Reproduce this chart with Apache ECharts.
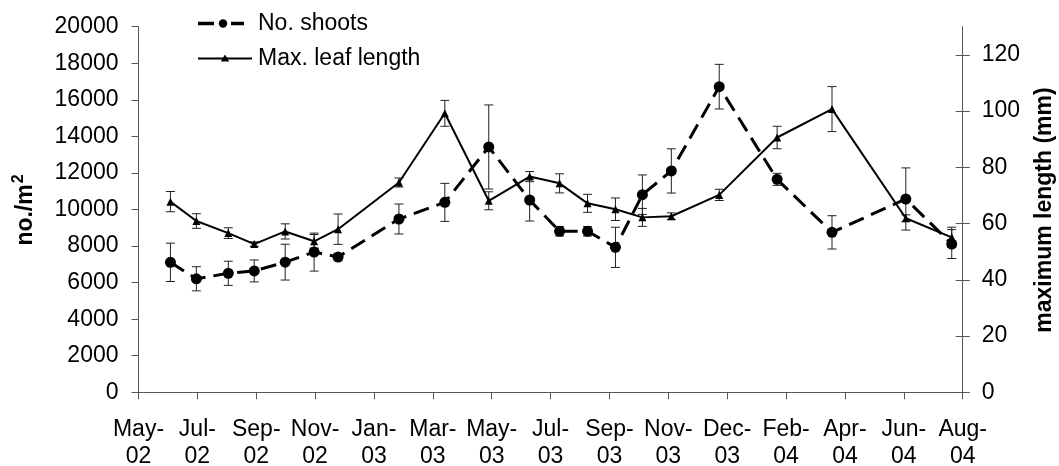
<!DOCTYPE html>
<html>
<head>
<meta charset="utf-8">
<script src="https://cdn.jsdelivr.net/npm/echarts@6/dist/echarts.min.js"></script>
<style>
  html, body { margin: 0; padding: 0; background: #fff; }
  #chart { width: 1059px; height: 466px; }
</style>
</head>
<body>
<div id="chart"></div>
<script>
// Sampling dates and the two measured quantities (mean and error)
const sampleDates = ['2002-06-21', '2002-07-17', '2002-08-18', '2002-09-13', '2002-10-14', '2002-11-12',
  '2002-12-06', '2003-02-05', '2003-03-23', '2003-05-06', '2003-06-16', '2003-07-16', '2003-08-13',
  '2003-09-10', '2003-10-07', '2003-11-05', '2003-12-23', '2004-02-19', '2004-04-14', '2004-06-27',
  '2004-08-12'];
const shoots = [7110, 6210, 6510, 6640, 7120, 7670, 7400, 9480, 10390, 13420, 10520, 8810, 8810,
  7930, 10810, 12110, 16720, 11650, 8750, 10575, 8110];
const shootsErr = [1050, 660, 660, 600, 980, 1040, 200, 820, 1040, 2300, 1150, 260, 260,
  1100, 1080, 1210, 1220, 330, 910, 1700, 790];
const leafLength = [67.8, 60.9, 56.6, 52.7, 57.2, 53.7, 58.0, 74.6, 99.2, 68.1, 76.7, 74.3, 67.2,
  65.1, 62.2, 62.6, 70.2, 90.6, 100.7, 61.9, 55.1];
const leafErr = [3.6, 2.6, 1.9, 0.8, 2.7, 2.4, 5.4, 1.6, 4.6, 3.2, 1.8, 3.4, 3.2,
  4.0, 3.2, 1.2, 2.0, 4.0, 8.0, 1.2, 3.6];

// Date axis: first tick date, days between ticks, number of tick intervals
const axisStart = '2002-05-20';
const tickDays = 59;
const tickIntervals = 14;
const rightTicks = [0, 20, 40, 60, 80, 100, 120];
const monthNames = ['Jan', 'Feb', 'Mar', 'Apr', 'May', 'Jun', 'Jul', 'Aug', 'Sep', 'Oct', 'Nov', 'Dec'];
const seriesNames = ['No. shoots', 'Max. leaf length'];

const DAY = 86400000;
const startMs = Date.parse(axisStart);
const dayOffset = d => Math.round((Date.parse(d) - startMs) / DAY);
const xs = sampleDates.map(dayOffset);

const FONT = 'Liberation Sans, Arial, Helvetica, sans-serif';
const AXIS_COLOR = '#555';

function dateLabel(v) {
  const d = new Date(startMs + v * DAY);
  const yy = String(d.getUTCFullYear() % 100).padStart(2, '0');
  return monthNames[d.getUTCMonth()] + '-\n' + yy;
}

function errorBars(params, api) {
  const x = api.value(0);
  const lo = api.coord([x, api.value(1)]);
  const hi = api.coord([x, api.value(2)]);
  const cap = 4.5;
  const st = { stroke: '#222', lineWidth: 1 };
  return {
    type: 'group',
    children: [
      { type: 'line', shape: { x1: lo[0], y1: lo[1], x2: hi[0], y2: hi[1] }, style: st },
      { type: 'line', shape: { x1: lo[0] - cap, y1: lo[1], x2: lo[0] + cap, y2: lo[1] }, style: st },
      { type: 'line', shape: { x1: hi[0] - cap, y1: hi[1], x2: hi[0] + cap, y2: hi[1] }, style: st }
    ]
  };
}

// Key in the upper-left corner of the plot
const legendKey = [
  { type: 'line', shape: { x1: 198, y1: 23.5, x2: 214, y2: 23.5 }, style: { stroke: '#000', lineWidth: 3.5 } },
  { type: 'line', shape: { x1: 231, y1: 23.5, x2: 244, y2: 23.5 }, style: { stroke: '#000', lineWidth: 3.5 } },
  { type: 'circle', shape: { cx: 223, cy: 23.5, r: 4.2 }, style: { fill: '#000' } },
  { type: 'text', x: 258, y: 23.5, style: { text: seriesNames[0], font: '23px ' + FONT, fill: '#000', align: 'left', verticalAlign: 'middle' } },
  { type: 'line', shape: { x1: 198, y1: 58.5, x2: 252, y2: 58.5 }, style: { stroke: '#000', lineWidth: 2 } },
  { type: 'polygon', shape: { points: [[225, 54.5], [229.2, 61.5], [220.8, 61.5]] }, style: { fill: '#000' } },
  { type: 'text', x: 258, y: 58.5, style: { text: seriesNames[1], font: '23px ' + FONT, fill: '#000', align: 'left', verticalAlign: 'middle' } }
];

const chart = echarts.init(document.getElementById('chart'), null, { renderer: 'canvas' });

chart.setOption({
  animation: false,
  backgroundColor: '#fff',
  textStyle: { fontFamily: FONT },
  grid: { left: 138.5, right: 96.3, top: 26.7, bottom: 73.7, containLabel: false, outerBoundsMode: 'none' },
  xAxis: {
    type: 'value',
    min: 0,
    max: tickDays * tickIntervals,
    interval: tickDays,
    splitLine: { show: false },
    axisLine: { show: true, lineStyle: { color: AXIS_COLOR, width: 1 } },
    axisTick: { show: true, length: 7, lineStyle: { color: AXIS_COLOR } },
    axisLabel: {
      formatter: dateLabel,
      fontSize: 23, lineHeight: 27, color: '#000', margin: 24, fontFamily: FONT,
      showMinLabel: true, showMaxLabel: true
    }
  },
  yAxis: [
    {
      type: 'value', position: 'left',
      min: 0, max: 20000, interval: 2000,
      splitLine: { show: false },
      axisLine: { show: true, lineStyle: { color: AXIS_COLOR } },
      axisTick: { show: true, length: 7, lineStyle: { color: AXIS_COLOR } },
      axisLabel: { fontSize: 23, color: '#000', margin: 20, fontFamily: FONT, formatter: v => String(v) }
    },
    {
      type: 'value', position: 'right',
      min: 0, max: 130,
      splitLine: { show: false },
      axisLine: { show: true, lineStyle: { color: AXIS_COLOR } },
      axisTick: { show: true, length: 7, customValues: rightTicks, lineStyle: { color: AXIS_COLOR } },
      axisLabel: { fontSize: 23, color: '#000', margin: 19, fontFamily: FONT, customValues: rightTicks }
    },
    {
      // inner half of the crossing ticks on the right axis
      type: 'value', position: 'right',
      min: 0, max: 130,
      splitLine: { show: false },
      axisLine: { show: false },
      axisTick: { show: true, inside: true, length: 7, customValues: rightTicks, lineStyle: { color: AXIS_COLOR } },
      axisLabel: { show: false }
    }
  ],
  graphic: legendKey.concat([
    {
      type: 'text', x: 26, y: 210, rotation: Math.PI / 2,
      style: {
        text: '{a|no./m}{b|2}',
        rich: {
          a: { fontSize: 23, fontWeight: 'bold', fontFamily: FONT, fill: '#000' },
          b: { fontSize: 16, fontWeight: 'bold', fontFamily: FONT, fill: '#000', padding: [0, 0, 14, 1] }
        },
        align: 'center', verticalAlign: 'middle'
      }
    },
    {
      type: 'text', x: 1045, y: 210, rotation: Math.PI / 2,
      style: {
        text: 'maximum length (mm)',
        font: 'bold 23px ' + FONT, fill: '#000',
        align: 'center', verticalAlign: 'middle'
      }
    }
  ]),
  series: [
    {
      name: 'shoot errors', type: 'custom', xAxisIndex: 0, yAxisIndex: 0,
      renderItem: errorBars, encode: { x: 0, y: [1, 2] }, z: 1, silent: true,
      data: xs.map((x, i) => [x, shoots[i] - shootsErr[i], shoots[i] + shootsErr[i]])
    },
    {
      name: 'leaf errors', type: 'custom', xAxisIndex: 0, yAxisIndex: 1,
      renderItem: errorBars, encode: { x: 0, y: [1, 2] }, z: 1, silent: true,
      data: xs.map((x, i) => [x, leafLength[i] - leafErr[i], leafLength[i] + leafErr[i]])
    },
    {
      name: seriesNames[0], type: 'line', xAxisIndex: 0, yAxisIndex: 0,
      data: xs.map((x, i) => [x, shoots[i]]),
      symbol: 'circle', symbolSize: 11,
      lineStyle: { color: '#000', width: 3, type: [16, 8] },
      itemStyle: { color: '#000' }, z: 3
    },
    {
      name: seriesNames[1], type: 'line', xAxisIndex: 0, yAxisIndex: 1,
      data: xs.map((x, i) => [x, leafLength[i]]),
      symbol: 'triangle', symbolSize: 8,
      lineStyle: { color: '#000', width: 2, type: 'solid' },
      itemStyle: { color: '#000' }, z: 4
    }
  ]
});
</script>
</body>
</html>
